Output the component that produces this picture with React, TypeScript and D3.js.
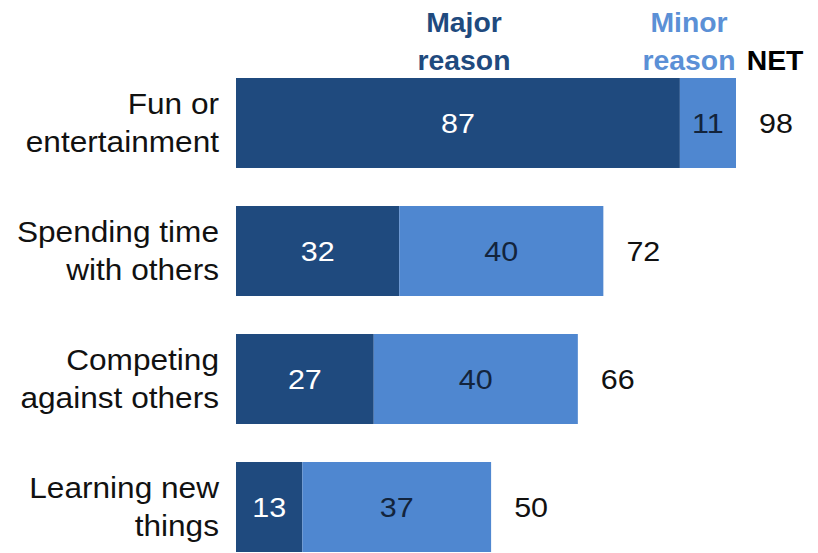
import React from "react";
import * as d3 from "d3";

const categories: string[][] = [
  ["Fun or", "entertainment"],
  ["Spending time", "with others"],
  ["Competing", "against others"],
  ["Learning new", "things"],
];
const majorValues = [87, 32, 27, 13];
const minorValues = [11, 40, 40, 37];
const netValues = [98, 72, 66, 50];

const W = 818;
const H = 553;
const DARK = "#1f4a7e";
const LIGHT = "#4f87d0";
const FONT = "'Liberation Sans', Arial, sans-serif";
const SX = 1.09; // slightly wide lettering

const x = d3.scaleLinear().domain([0, 98]).range([236, 736]);
const y = d3
  .scaleBand<number>()
  .domain(d3.range(categories.length))
  .range([78, 552])
  .paddingInner(0.297)
  .paddingOuter(0);

function T({
  x: tx,
  y: ty,
  anchor = "middle",
  size = 28,
  weight = 400,
  fill = "#111",
  sx = SX,
  children,
}: {
  x: number;
  y: number;
  anchor?: "start" | "middle" | "end";
  size?: number;
  weight?: number;
  fill?: string;
  sx?: number;
  children: React.ReactNode;
}) {
  return (
    <text
      transform={`translate(${tx},${ty}) scale(${sx},1)`}
      textAnchor={anchor}
      fontSize={size}
      fontWeight={weight}
      fill={fill}
      fontFamily={FONT}
    >
      {children}
    </text>
  );
}

export default function App() {
  const bw = y.bandwidth();
  return (
    <svg
      width={W}
      height={H}
      style={{ position: "absolute", left: 0, top: 0, background: "#fff" }}
    >
      {/* column headers */}
      <T x={464} y={32} size={27} weight={700} fill={DARK} sx={1.05}>Major</T>
      <T x={464} y={70} size={27} weight={700} fill={DARK} sx={1.05}>reason</T>
      <T x={689} y={32} size={27} weight={700} fill="#5b90d6" sx={1.05}>Minor</T>
      <T x={689} y={70} size={27} weight={700} fill="#5b90d6" sx={1.05}>reason</T>
      <T x={775} y={70} size={27} weight={700} fill="#000" sx={1.05}>NET</T>

      {categories.map((lines, i) => {
        const top = y(i)!;
        const cy = top + bw / 2;
        const maj = majorValues[i];
        const min = minorValues[i];
        const x0 = x(0);
        const x1 = x(maj);
        const x2 = x(maj + min);
        return (
          <g key={i}>
            <T x={219} y={cy - 9} anchor="end" size={29}>{lines[0]}</T>
            <T x={219} y={cy + 29} anchor="end" size={29}>{lines[1]}</T>
            <rect x={x0} y={top} width={x1 - x0} height={bw} fill={DARK} />
            <rect x={x1} y={top} width={x2 - x1} height={bw} fill={LIGHT} />
            <T x={(x0 + x1) / 2} y={cy + 10} fill="#fff">{maj}</T>
            <T x={(x1 + x2) / 2} y={cy + 10} fill="#13243c">{min}</T>
            <T x={x2 + 40} y={cy + 10} fill="#111">{netValues[i]}</T>
          </g>
        );
      })}
    </svg>
  );
}
